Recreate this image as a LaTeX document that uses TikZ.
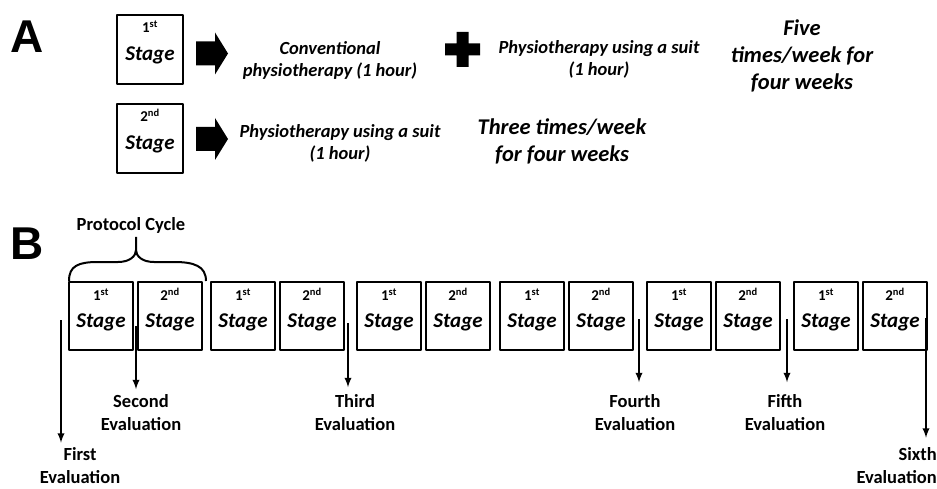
\documentclass[tikz,border=0pt]{standalone}
\usepackage{fontspec}
\setmainfont{Carlito}
\newfontfamily\letterfont{Liberation Sans}
\usetikzlibrary{positioning}

\tikzset{
	stagebox/.style={draw, line width=2.2pt, inner sep=0pt, minimum width=64, minimum height=68},
	ordtext/.style={font=\bfseries\fontsize{15}{17}\selectfont, inner sep=0pt},
	stagetext/.style={font=\bfseries\itshape\fontsize{21}{24}\selectfont, inner sep=0pt},
	infotext/.style={font=\bfseries\itshape\fontsize{18.5}{22}\selectfont, align=center, inner sep=0pt},
	bigtext/.style={font=\bfseries\itshape\fontsize{22.5}{27}\selectfont, align=center, inner sep=0pt},
	evaltext/.style={font=\bfseries\fontsize{18.5}{23}\selectfont, align=center, inner sep=0pt},
	panel/.style={font=\letterfont\bfseries\fontsize{46}{46}\selectfont, inner sep=0pt}
}

\begin{document}
\begin{tikzpicture}[x=1pt, y=-1pt, line join=round, >=latex]
	\useasboundingbox (0,0) rectangle (937,489);
	% panel A
	\node[panel] (A) at (27,37) {A};
	\node[stagebox, line width=2.8pt, minimum width=66, minimum height=69] (a1) at (150,49.5) {};
	\node[stagebox, line width=2.8pt, minimum width=66, minimum height=69] (a2) at (150,138.5) {};
	\foreach \b/\o in {a1/1\textsuperscript{st}, a2/2\textsuperscript{nd}}
		\path (\b.north) ++(0,19) node[ordtext, anchor=base]{\o} ++(0,28) node[stagetext, anchor=base]{Stage};
	\foreach \y in {53.5,139}
		\fill (196,\y-12) -- (215,\y-12) -- (215,\y-21) -- (228,\y) -- (215,\y+21) -- (215,\y+12) -- (196,\y+12) -- cycle;
	\node[infotext] (conv) at (330,60) {Conventional\\physiotherapy (1 hour)};
	\fill (456.5,32) rectangle (468.5,67) (445,43.5) rectangle (480,55.5);
	\node[infotext] (suit1) at (599,59.5) {Physiotherapy using a suit\\(1 hour)};
	\node[bigtext] (five) at (802,56) {Five\\times/week for\\four weeks};
	\node[infotext] (suit2) at (340,143) {Physiotherapy using a suit\\(1 hour)};
	\node[bigtext] (three) at (562,141.5) {Three times/week\\for four weeks};
	% panel B
	\node[panel] (B) at (27,244) {B};
	\foreach \p/\xl in {1/69,2/211,3/357,4/500,5/647,6/794}{
		\node[stagebox] (s\p-1) at (\xl+32,316) {};
		\node[stagebox] (s\p-2) at (\xl+101,316) {};
		\path (s\p-1.north) ++(0,19.5) node[ordtext, anchor=base]{1\textsuperscript{st}} ++(0,27) node[stagetext, anchor=base]{Stage};
		\path (s\p-2.north) ++(0,19.5) node[ordtext, anchor=base]{2\textsuperscript{nd}} ++(0,27) node[stagetext, anchor=base]{Stage};
	}
	\node[evaltext] (cycle) at (131,225) {Protocol Cycle};
	\draw[line width=2pt] (69,281) .. controls (69,266) and (78,262) .. (98,262) -- (118,262)
		.. controls (130,262) and (136,256) .. (136,250) -- (136,237)
		(136,250) .. controls (136,256) and (142,262) .. (154,262) -- (174,262)
		.. controls (194,262) and (206,266) .. (206,281);
	% evaluations
	\node[evaltext] (e1) at (80,466) {First\\Evaluation};
	\node[evaltext] (e2) at (141,412.5) {Second\\Evaluation};
	\node[evaltext] (e3) at (355,412.5) {Third\\Evaluation};
	\node[evaltext] (e4) at (635,412.5) {Fourth\\Evaluation};
	\node[evaltext] (e5) at (785,412.5) {Fifth\\Evaluation};
	\node[evaltext, align=right, anchor=east] (e6) at (937,466) {Sixth\\Evaluation};
	\foreach \n/\xa/\ya/\s in {1/61/320/5, 2/136/326/5, 3/348/323/7, 4/639/319/12, 5/787/319/12, 6/926/318/10}{
		\coordinate (t\n) at (\xa,\ya);
		\draw[->, line width=2.2pt, shorten >=\s pt] (t\n) -- (t\n |- e\n.north);
	}
\end{tikzpicture}
\end{document}
